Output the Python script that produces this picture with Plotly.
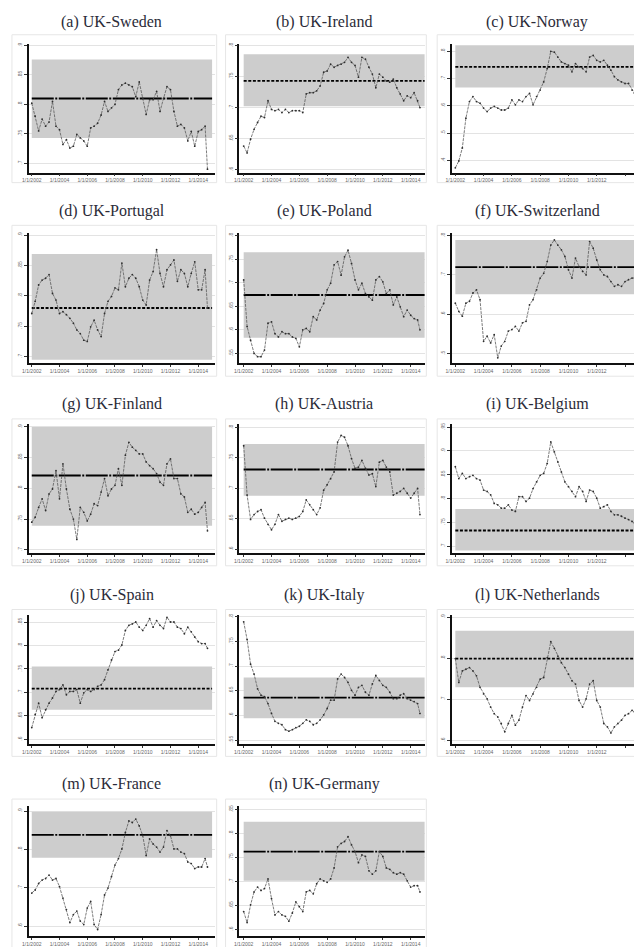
import pandas as pd
import plotly.graph_objects as go

# Quarterly observation dates, plus the last available observation
dates = list(pd.date_range("2002-01-01", "2014-07-01", freq="QS").strftime("%Y-%m-%d")) + ["2014-09-01"]

titles = [
    "(a) UK-Sweden", "(b) UK-Ireland", "(c) UK-Norway",
    "(d) UK-Portugal", "(e) UK-Poland", "(f) UK-Switzerland",
    "(g) UK-Finland", "(h) UK-Austria", "(i) UK-Belgium",
    "(j) UK-Spain", "(k) UK-Italy", "(l) UK-Netherlands",
    "(m) UK-France", "(n) UK-Germany",
]

sweden = [.802, .78, .755, .775, .763, .77, .805, .763, .757, .732, .74, .726, .729, .749, .743, .738, .729, .76,
          .763, .768, .782, .805, .788, .794, .80, .825, .833, .836, .833, .83, .813, .838, .81, .783, .808, .808,
          .822, .788, .81, .83, .825, .788, .763, .766, .76, .738, .754, .729, .754, .757, .763, .69]
ireland = [.638, .627, .649, .665, .676, .686, .684, .711, .697, .695, .697, .692, .697, .692, .695, .695, .695, .692,
           .722, .724, .724, .727, .735, .757, .759, .770, .765, .768, .770, .773, .781, .773, .768, .749, .781, .778,
           .765, .754, .732, .754, .749, .743, .741, .746, .732, .722, .711, .719, .716, .724, .711, .700]
norway = [.373, .398, .446, .555, .616, .634, .616, .610, .592, .579, .592, .598, .592, .585, .585, .592, .622, .604,
          .622, .616, .634, .646, .604, .634, .658, .688, .737, .800, .797, .779, .761, .755, .749, .725, .755, .743,
          .737, .725, .779, .785, .767, .761, .767, .749, .731, .707, .695, .688, .682, .682, .658, .646]
portugal = [.771, .791, .818, .826, .829, .835, .804, .793, .771, .774, .769, .763, .755, .744, .738, .727, .725, .749,
            .760, .744, .733, .771, .791, .799, .813, .810, .854, .815, .829, .835, .829, .815, .793, .785, .826, .840,
            .876, .837, .815, .843, .851, .859, .824, .843, .837, .815, .837, .856, .810, .810, .843, .780]
poland = [.706, .607, .578, .55, .543, .543, .557, .614, .617, .592, .585, .596, .592, .592, .585, .582, .564, .600,
          .603, .596, .628, .621, .642, .656, .685, .699, .738, .745, .716, .755, .769, .741, .706, .685, .699, .677,
          .670, .663, .706, .713, .702, .677, .685, .653, .670, .649, .628, .642, .631, .624, .621, .600]
switzerland = [.628, .607, .595, .628, .633, .654, .662, .637, .531, .544, .527, .548, .489, .519, .531, .557, .561,
               .569, .557, .578, .582, .624, .637, .662, .692, .704, .734, .776, .789, .776, .764, .747, .713, .692,
               .743, .721, .709, .700, .785, .768, .738, .713, .700, .696, .683, .671, .675, .671, .683, .688, .692,
               .692]
finland = [.745, .753, .769, .783, .764, .791, .799, .829, .783, .840, .799, .766, .750, .717, .769, .761, .747, .758,
           .775, .772, .794, .816, .788, .799, .805, .832, .805, .854, .875, .867, .862, .856, .856, .843, .837, .832,
           .824, .810, .805, .840, .848, .816, .816, .791, .786, .761, .766, .758, .761, .769, .777, .731]
austria = [.770, .689, .649, .657, .662, .665, .651, .641, .632, .641, .657, .646, .649, .651, .649, .651, .654, .662,
           .681, .673, .665, .657, .668, .697, .706, .716, .727, .776, .787, .784, .770, .749, .733, .735, .746, .733,
           .722, .724, .703, .743, .746, .735, .727, .689, .692, .695, .700, .692, .684, .692, .700, .657]
belgium = [.867, .842, .853, .842, .846, .849, .842, .839, .818, .815, .808, .790, .787, .780, .780, .787, .776, .773,
           .804, .804, .794, .801, .821, .835, .849, .853, .874, .919, .898, .877, .856, .835, .825, .815, .804, .825,
           .815, .794, .818, .815, .801, .780, .783, .787, .773, .766, .766, .763, .759, .756, .752, .749]
spain = [.625, .653, .677, .646, .663, .677, .688, .702, .706, .716, .695, .702, .702, .706, .677, .699, .706, .702,
         .706, .713, .716, .727, .748, .769, .787, .790, .801, .832, .843, .846, .850, .839, .832, .843, .857, .839,
         .853, .843, .836, .860, .850, .850, .839, .836, .825, .839, .829, .818, .808, .804, .804, .794]
italy = [.790, .754, .704, .684, .654, .641, .638, .624, .604, .588, .584, .581, .571, .568, .571, .575, .578, .584,
         .591, .588, .581, .584, .591, .601, .614, .631, .631, .674, .684, .677, .667, .651, .641, .657, .661, .647,
         .641, .664, .681, .671, .661, .657, .647, .634, .634, .641, .644, .634, .631, .628, .624, .604]
netherlands = [.799, .741, .769, .773, .777, .769, .757, .729, .713, .701, .681, .665, .657, .641, .621, .641, .661,
               .637, .649, .681, .709, .697, .713, .729, .749, .753, .801, .840, .824, .805, .789, .777, .761, .745,
               .737, .697, .681, .701, .737, .745, .697, .681, .641, .633, .618, .633, .641, .649, .661, .665, .673,
               .669]
france = [.686, .694, .711, .720, .724, .733, .720, .724, .703, .673, .643, .609, .630, .639, .613, .604, .647, .664,
          .604, .591, .630, .681, .699, .729, .759, .776, .801, .844, .874, .870, .879, .861, .836, .784, .827, .814,
          .806, .793, .806, .849, .836, .801, .801, .793, .789, .767, .763, .750, .754, .754, .776, .754]
germany = [.637, .614, .651, .678, .688, .681, .685, .705, .664, .630, .637, .630, .627, .617, .634, .657, .647, .637,
           .678, .681, .674, .695, .705, .701, .698, .705, .728, .772, .779, .783, .793, .776, .762, .739, .755, .752,
           .722, .715, .722, .762, .752, .728, .725, .718, .715, .718, .715, .701, .688, .691, .691, .678]

series = [sweden, ireland, norway, portugal, poland, switzerland, finland,
          austria, belgium, spain, italy, netherlands, france, germany]

# Long-run mean and its band for each pair
mean_level = [.810, .743, .743, .780, .674, .720, .821, .731, .733, .708, .636, .799, .838, .762]
band_low = [.743, .702, .667, .695, .583, .651, .739, .688, .691, .663, .594, .729, .778, .701]
band_high = [.876, .786, .822, .869, .765, .789, .900, .773, .778, .755, .677, .867, .898, .824]
band_start, band_end = "2002-01-01", "2015-01-01"

y_ticks = [
    [.7, .75, .8, .85, .9], [.6, .65, .7, .75, .8], [.4, .5, .6, .7, .8],
    [.7, .75, .8, .85, .9], [.55, .6, .65, .7, .75, .8], [.5, .6, .7, .8],
    [.7, .75, .8, .85, .9], [.6, .65, .7, .75, .8], [.7, .75, .8, .85, .9, .95],
    [.6, .65, .7, .75, .8, .85], [.55, .6, .65, .7, .75, .8], [.6, .7, .8, .9],
    [.6, .7, .8, .9], [.6, .65, .7, .75, .8, .85],
]
x_ticks = ["2002-01-01", "2004-01-01", "2006-01-01", "2008-01-01",
           "2010-01-01", "2012-01-01", "2014-01-01"]

# ---- layout geometry (pixels) ----
W, H = 634, 947
col_plot = [(22, 210), (235, 423), (450, 634)]
col_frame = [(5, 212), (221, 424), (435, 660)]
col_title = [106, 321, 536]
col_xrange = [["2001-10-14", "2015-03-10"], ["2001-09-11", "2015-01-20"], ["2001-10-08", "2014-08-20"]]
row_plot = [(42, 172), (233, 364), (425, 555), (618, 748), (810, 941)]
row_frame = [(33, 182), (225, 377), (420, 568), (612, 760), (803, 980)]
row_title = [20, 211, 405, 597, 788]
y_range = [[.684, .903], [.595, .803], [.355, .828], [.689, .903], [.529, .805], [.475, .806],
           [.695, .905], [.594, .806], [.686, .957], [.589, .864], [.541, .803], [.590, .904],
           [.574, .913], [.586, .857]]
dense_mean = {1, 2, 3, 8, 9, 11}


def px_x(p):
    return p / W


def px_y(p):
    return 1 - p / H


def tick_label(v):
    s = f"{v:.2f}".rstrip("0").rstrip(".")
    return s[1:] if s.startswith("0") else s


fig = go.Figure()
shapes, annotations = [], []
layout_axes = {}

for i, vals in enumerate(series):
    r, c = divmod(i, 3)
    k = i + 1
    xname = "x" if k == 1 else f"x{k}"
    yname = "y" if k == 1 else f"y{k}"
    xkey = "xaxis" if k == 1 else f"xaxis{k}"
    ykey = "yaxis" if k == 1 else f"yaxis{k}"

    # panel frame
    shapes.append(dict(type="rect", xref="paper", yref="paper",
                       x0=px_x(col_frame[c][0]), x1=px_x(col_frame[c][1]),
                       y0=px_y(row_frame[r][1]), y1=px_y(row_frame[r][0]),
                       line=dict(color="#e6e6e6", width=1), fillcolor="rgba(0,0,0,0)", layer="below"))
    # band around the mean
    shapes.append(dict(type="rect", xref=xname, yref=yname, x0=band_start, x1=band_end,
                       y0=band_low[i], y1=band_high[i], fillcolor="#cdcdcd",
                       line=dict(width=0), layer="between"))

    dash = "3px,1.6px" if i in dense_mean else "22px,1.5px,2px,1.5px"
    fig.add_trace(go.Scatter(x=[band_start, band_end], y=[mean_level[i], mean_level[i]],
                             mode="lines", line=dict(color="#000000", width=1.8, dash=dash),
                             xaxis=xname, yaxis=yname, hoverinfo="skip"))
    fig.add_trace(go.Scatter(x=dates, y=vals, mode="lines+markers",
                             line=dict(color="#5a5a5a", width=0.8, dash="3px,1px"),
                             marker=dict(color="#2e2e2e", size=1.8),
                             xaxis=xname, yaxis=yname))

    annotations.append(dict(text=titles[i], x=px_x(col_title[c]), y=px_y(row_title[r]),
                            xref="paper", yref="paper", showarrow=False,
                            xanchor="center", yanchor="middle",
                            font=dict(family="Liberation Serif", size=16, color="#2b2b38")))

    layout_axes[xkey] = dict(
        domain=[px_x(col_plot[c][0]), px_x(col_plot[c][1])], anchor=yname,
        type="date", range=col_xrange[c], tickvals=x_ticks, tickformat="%-m/%-d/%Y",
        tickfont=dict(family="Liberation Sans", size=5, color="#666666"),
        ticks="outside", ticklen=2, tickwidth=1, tickcolor="#333333",
        showline=True, linecolor="#111111", linewidth=1.5,
        showgrid=False, zeroline=False, tickangle=0,
    )
    layout_axes[ykey] = dict(
        domain=[px_y(row_plot[r][1]), px_y(row_plot[r][0])], anchor=xname,
        range=y_range[i], tickvals=y_ticks[i], ticktext=[tick_label(v) for v in y_ticks[i]],
        tickangle=-90, tickfont=dict(family="Liberation Sans", size=5, color="#666666"),
        ticks="outside", ticklen=3, tickwidth=1, tickcolor="#333333",
        showline=True, linecolor="#111111", linewidth=1.5,
        showgrid=True, gridcolor="#e3e3e3", gridwidth=1, zeroline=False,
    )

fig.update_layout(
    width=W, height=H, autosize=False,
    margin=dict(l=0, r=0, t=0, b=0),
    paper_bgcolor="white", plot_bgcolor="white",
    showlegend=False, shapes=shapes, annotations=annotations,
    **layout_axes,
)

fig.write_html("out.html")
